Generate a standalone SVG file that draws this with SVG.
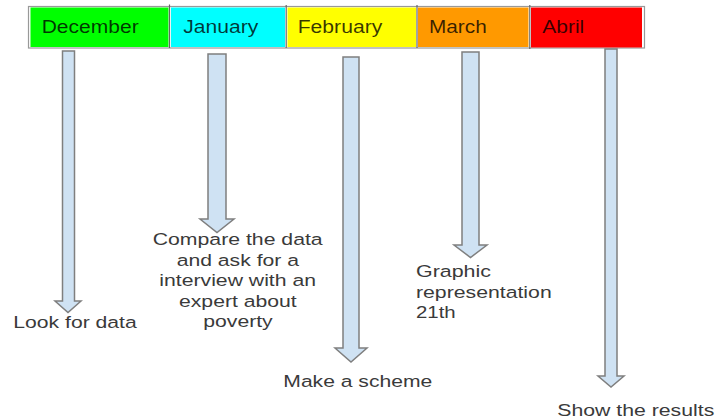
<svg xmlns="http://www.w3.org/2000/svg" width="715" height="419" viewBox="0 0 715 419">
<style>
.box{stroke:none}
.div{stroke:#666;stroke-width:1.2}
.arrow{fill:#cfe2f3;stroke:#7f7f7f;stroke-width:1.5;stroke-linejoin:miter}
.hd{font-family:"Liberation Sans",Arial,sans-serif;font-size:17.5px;fill:#000;fill-opacity:0.78}
.lb{font-family:"Liberation Sans",Arial,sans-serif;font-size:16.3px;fill:#3a3a3a}
</style>
<rect width="715" height="419" fill="#fff"/>
<g id="timeline">
<rect x="28.5" y="6.5" width="616" height="41.5" fill="#fff" stroke="#999" stroke-width="1.2"/>
</g>
<g id="december">
<rect class="box" x="30.5" y="7.5" width="138" height="39.5" fill="#00ff00"/>
<text class="hd" x="41.7" y="33.3" textLength="97" lengthAdjust="spacingAndGlyphs">December</text>
</g>
<g id="january">
<rect class="box" x="171" y="7.5" width="114" height="39.5" fill="#00ffff"/>
<text class="hd" x="183.3" y="33.3" textLength="75" lengthAdjust="spacingAndGlyphs">January</text>
</g>
<g id="february">
<rect class="box" x="287.5" y="7.5" width="128.5" height="39.5" fill="#ffff00"/>
<text class="hd" x="297.7" y="33.3" textLength="84.6" lengthAdjust="spacingAndGlyphs">February</text>
</g>
<g id="march">
<rect class="box" x="418" y="7.5" width="110.5" height="39.5" fill="#ff9900"/>
<text class="hd" x="429" y="33.3" textLength="57.7" lengthAdjust="spacingAndGlyphs">March</text>
</g>
<g id="abril">
<rect class="box" x="531" y="7.5" width="111" height="40" fill="#ff0000"/>
<text class="hd" x="542.3" y="33.3" textLength="42" lengthAdjust="spacingAndGlyphs">Abril</text>
</g>
<g id="dividers">
<line class="div" x1="169.5" y1="4.5" x2="169.5" y2="48"/>
<line class="div" x1="286.2" y1="5" x2="286.2" y2="48"/>
<line class="div" x1="417" y1="5" x2="417" y2="48"/>
<line class="div" x1="529.8" y1="5" x2="529.8" y2="49"/>
</g>
<g id="connectors">
<path class="arrow" d="M62.5,51 H74.5 V301 H81 L68,312.5 L55,301 H62.5 Z"/>
<path class="arrow" d="M208,54 H226 V219 H234 L217,232.5 L200,219 H208 Z"/>
<path class="arrow" d="M343,57 H359 V348 H367 L351,362 L335,348 H343 Z"/>
<path class="arrow" d="M462,52 H479 V245 H487 L470.5,257.5 L454,245 H462 Z"/>
<path class="arrow" d="M605,49 H617 V376 H624 L611,387 L598,376 H605 Z"/>
</g>
<g id="label-december">
<text class="lb" x="13.3" y="328" textLength="123.4" lengthAdjust="spacingAndGlyphs">Look for data</text>
</g>
<g id="label-january">
<text class="lb" x="152.7" y="245" textLength="170" lengthAdjust="spacingAndGlyphs">Compare the data</text>
<text class="lb" x="176.7" y="265.6" textLength="122.3" lengthAdjust="spacingAndGlyphs">and ask for a</text>
<text class="lb" x="159.3" y="286.2" textLength="156.7" lengthAdjust="spacingAndGlyphs">interview with an</text>
<text class="lb" x="179" y="306.8" textLength="117.7" lengthAdjust="spacingAndGlyphs">expert about</text>
<text class="lb" x="203.3" y="327.4" textLength="69.4" lengthAdjust="spacingAndGlyphs">poverty</text>
</g>
<g id="label-february">
<text class="lb" x="283.3" y="386.7" textLength="149" lengthAdjust="spacingAndGlyphs">Make a scheme</text>
</g>
<g id="label-march">
<text class="lb" x="416" y="277.3" textLength="75" lengthAdjust="spacingAndGlyphs">Graphic</text>
<text class="lb" x="416" y="297.8" textLength="135.7" lengthAdjust="spacingAndGlyphs">representation</text>
<text class="lb" x="416" y="318.3" textLength="39.7" lengthAdjust="spacingAndGlyphs">21th</text>
</g>
<g id="label-abril">
<text class="lb" x="557.3" y="416.2" textLength="157" lengthAdjust="spacingAndGlyphs">Show the results</text>
</g>
</svg>
